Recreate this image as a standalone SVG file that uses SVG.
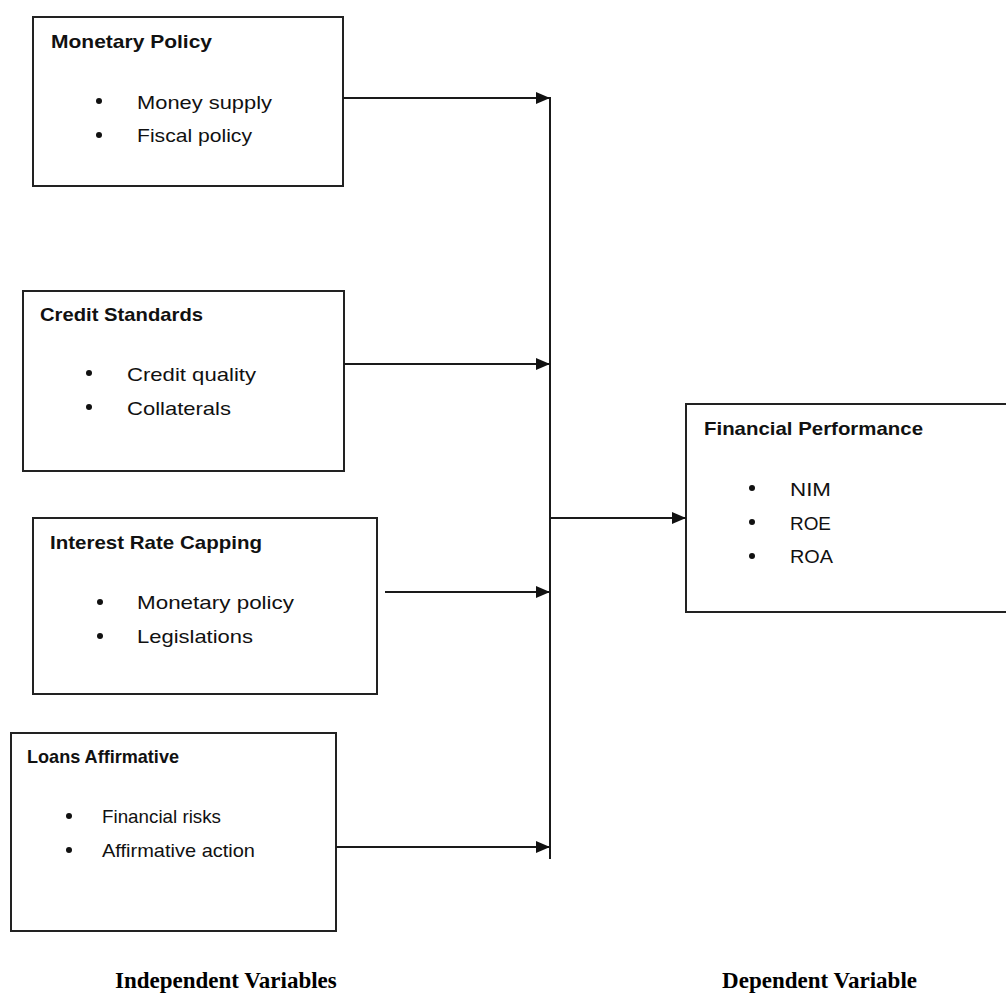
<svg xmlns="http://www.w3.org/2000/svg" width="1006" height="994" viewBox="0 0 1006 994">
  <style>
    .box { fill: #ffffff; stroke: #222222; stroke-width: 2; }
    .title { font-family: "Liberation Sans", Arial, sans-serif; font-weight: bold; font-size: 19px; fill: #111111; }
    .item { font-family: "Liberation Sans", Arial, sans-serif; font-size: 19px; fill: #111111; }
    .bullet { fill: #111111; }
    .conn { stroke: #1a1a1a; stroke-width: 2; fill: none; }
    .caption { font-family: "Liberation Serif", "Times New Roman", serif; font-weight: bold; font-size: 23px; fill: #000000; }
  </style>
  <defs>
    <marker id="arrow" markerUnits="userSpaceOnUse" markerWidth="14" markerHeight="12" refX="14" refY="6" orient="auto">
      <path d="M0,0 L14,6 L0,12 Z" fill="#111111"/>
    </marker>
  </defs>
  <rect width="1006" height="994" fill="#ffffff"/>

  <g id="monetary-policy">
    <rect class="box" x="33" y="17" width="310" height="169"/>
    <text class="title" x="51" y="48" textLength="161" lengthAdjust="spacingAndGlyphs">Monetary Policy</text>
    <circle class="bullet" cx="99" cy="101" r="3"/>
    <text class="item" x="137" y="109" textLength="135" lengthAdjust="spacingAndGlyphs">Money supply</text>
    <circle class="bullet" cx="99" cy="135" r="3"/>
    <text class="item" x="137" y="142" textLength="115" lengthAdjust="spacingAndGlyphs">Fiscal policy</text>
  </g>

  <g id="credit-standards">
    <rect class="box" x="23" y="291" width="321" height="180"/>
    <text class="title" x="40" y="321" textLength="163" lengthAdjust="spacingAndGlyphs">Credit Standards</text>
    <circle class="bullet" cx="89" cy="373" r="3"/>
    <text class="item" x="127" y="381" textLength="129" lengthAdjust="spacingAndGlyphs">Credit quality</text>
    <circle class="bullet" cx="89" cy="407" r="3"/>
    <text class="item" x="127" y="415" textLength="104" lengthAdjust="spacingAndGlyphs">Collaterals</text>
  </g>

  <g id="interest-rate-capping">
    <rect class="box" x="33" y="518" width="344" height="176"/>
    <text class="title" x="50" y="549" textLength="212" lengthAdjust="spacingAndGlyphs">Interest Rate Capping</text>
    <circle class="bullet" cx="100" cy="602" r="3"/>
    <text class="item" x="137" y="609" textLength="157" lengthAdjust="spacingAndGlyphs">Monetary policy</text>
    <circle class="bullet" cx="100" cy="636" r="3"/>
    <text class="item" x="137" y="643" textLength="116" lengthAdjust="spacingAndGlyphs">Legislations</text>
  </g>

  <g id="loans-affirmative">
    <rect class="box" x="11" y="733" width="325" height="198"/>
    <text class="title" x="27" y="763" textLength="152" lengthAdjust="spacingAndGlyphs">Loans Affirmative</text>
    <circle class="bullet" cx="69" cy="816" r="3"/>
    <text class="item" x="102" y="823" textLength="119" lengthAdjust="spacingAndGlyphs">Financial risks</text>
    <circle class="bullet" cx="69" cy="850" r="3"/>
    <text class="item" x="102" y="857" textLength="153" lengthAdjust="spacingAndGlyphs">Affirmative action</text>
  </g>

  <g id="financial-performance">
    <rect class="box" x="686" y="404" width="330" height="208"/>
    <text class="title" x="704" y="435" textLength="219" lengthAdjust="spacingAndGlyphs">Financial Performance</text>
    <circle class="bullet" cx="752" cy="488" r="3"/>
    <text class="item" x="790" y="496" textLength="41" lengthAdjust="spacingAndGlyphs">NIM</text>
    <circle class="bullet" cx="752" cy="522" r="3"/>
    <text class="item" x="790" y="530" textLength="41" lengthAdjust="spacingAndGlyphs">ROE</text>
    <circle class="bullet" cx="752" cy="556" r="3"/>
    <text class="item" x="790" y="563" textLength="43" lengthAdjust="spacingAndGlyphs">ROA</text>
  </g>

  <g id="connectors">
    <line class="conn" x1="550" y1="97" x2="550" y2="859"/>
    <line class="conn" x1="343" y1="98" x2="550" y2="98" marker-end="url(#arrow)"/>
    <line class="conn" x1="344" y1="364" x2="550" y2="364" marker-end="url(#arrow)"/>
    <line class="conn" x1="385" y1="592" x2="550" y2="592" marker-end="url(#arrow)"/>
    <line class="conn" x1="336" y1="847" x2="550" y2="847" marker-end="url(#arrow)"/>
    <line class="conn" x1="550" y1="518" x2="686" y2="518" marker-end="url(#arrow)"/>
  </g>

  <g id="captions">
    <text class="caption" x="115" y="988">Independent Variables</text>
    <text class="caption" x="917" y="988" text-anchor="end">Dependent Variable</text>
  </g>
</svg>
